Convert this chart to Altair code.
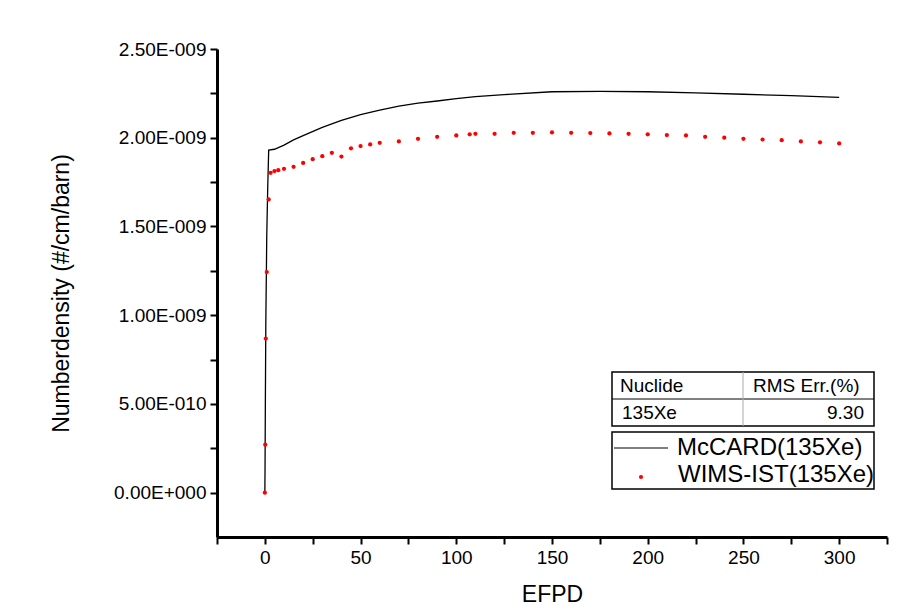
import altair as alt
import pandas as pd

# ---- data (number density in units of 1e-9 #/cm/barn) ----
mccard_efpd = [0, 0.1, 0.25, 0.5, 1, 1.5, 2, 5, 10, 15, 20, 30, 40, 50, 60, 70, 80, 90,
               100, 110, 125, 150, 175, 200, 225, 250, 275, 300]
mccard_nd = [0.0, 0.14, 0.48, 0.95, 1.45, 1.72, 1.93, 1.935, 1.958, 1.988, 2.012, 2.058,
             2.098, 2.130, 2.156, 2.178, 2.195, 2.207, 2.220, 2.232, 2.243, 2.259, 2.261,
             2.259, 2.253, 2.245, 2.237, 2.227]

wims_efpd = [0, 0.2, 0.5, 1, 2, 3, 5, 7, 10, 15, 20, 25, 30, 35, 40, 45, 50, 55, 60, 70,
             80, 90, 100, 107, 110, 120, 130, 140, 150, 160, 170, 180, 190, 200, 210, 220,
             230, 240, 250, 260, 270, 280, 290, 300]
wims_nd = [0.0, 0.27, 0.868, 1.243, 1.652, 1.802, 1.812, 1.817, 1.825, 1.836, 1.858, 1.879,
           1.896, 1.915, 1.894, 1.940, 1.953, 1.962, 1.971, 1.979, 1.994, 2.005, 2.013,
           2.019, 2.022, 2.022, 2.028, 2.028, 2.030, 2.028, 2.026, 2.024, 2.022, 2.019,
           2.015, 2.013, 2.005, 2.000, 1.994, 1.990, 1.986, 1.979, 1.974, 1.968]

y_tick_values = [0, 0.25, 0.5, 0.75, 1.0, 1.25, 1.5, 1.75, 2.0, 2.25, 2.5]
y_label_values = [0, 0.5, 1.0, 1.5, 2.0, 2.5]
y_tick_labels = ["0.00E+000", "5.00E-010", "1.00E-009", "1.50E-009", "2.00E-009", "2.50E-009"]

x_tick_values = [-25, 0, 25, 50, 75, 100, 125, 150, 175, 200, 225, 250, 275, 300, 325]
x_label_values = [0, 50, 100, 150, 200, 250, 300]

table_header = ["Nuclide", "RMS Err.(%)"]
table_row = ["135Xe", "9.30"]
series_names = ["McCARD(135Xe)", "WIMS-IST(135Xe)"]

FONT = "Liberation Sans"
W, H = 670, 488

y_expr = " : ".join(
    f"abs(datum.value - {v}) < 1e-6 ? '{lab}'" for v, lab in zip(y_label_values, y_tick_labels)
) + " : ''"
x_expr = " : ".join(
    f"abs(datum.value - {v}) < 1e-6 ? '{v}'" for v in x_label_values
) + " : ''"

df_m = pd.DataFrame({"EFPD": mccard_efpd, "ND": mccard_nd})
df_w = pd.DataFrame({"EFPD": wims_efpd, "ND": wims_nd})

xscale = alt.Scale(domain=[-25, 325], nice=False, zero=False)
yscale = alt.Scale(domain=[-0.25, 2.5], nice=False, zero=False)

xaxis = alt.Axis(values=x_tick_values, labelExpr=x_expr, title="EFPD",
                 labelOverlap=False, labelFlush=False, labelPadding=4, titlePadding=16)
yaxis = alt.Axis(values=y_tick_values, labelExpr=y_expr, title="Numberdensity (#/cm/barn)",
                 labelOverlap=False, labelPadding=4, titlePadding=40)

line = alt.Chart(df_m).mark_line(color="black", strokeWidth=1.3).encode(
    x=alt.X("EFPD:Q", scale=xscale, axis=xaxis),
    y=alt.Y("ND:Q", scale=yscale, axis=yaxis),
)
pts = alt.Chart(df_w).mark_circle(color="#ff0000", size=18, opacity=1).encode(
    x=alt.X("EFPD:Q", scale=xscale),
    y=alt.Y("ND:Q", scale=yscale),
)

one = alt.Data(values=[{"a": 1}])

# table box
tbl_box = alt.Chart(one).mark_rect(fill="white", stroke="black", strokeWidth=1.5).encode(
    x=alt.value(395), x2=alt.value(657), y=alt.value(323), y2=alt.value(377))
tbl_h = alt.Chart(one).mark_rule(color="black", strokeWidth=1).encode(
    x=alt.value(395), x2=alt.value(657), y=alt.value(350))
tbl_v = alt.Chart(one).mark_rule(color="#aaaaaa", strokeWidth=1).encode(
    x=alt.value(526), y=alt.value(323), y2=alt.value(377))

def txt(s, x, y, size, align="left"):
    return alt.Chart(one).mark_text(text=s, font=FONT, fontSize=size, align=align,
                                    baseline="middle", color="black").encode(
        x=alt.value(x), y=alt.value(y))

t1 = txt(table_header[0], 403, 337, 19)
t2 = txt(table_header[1], 536, 337, 19)
t3 = txt(table_row[0], 405, 364, 19)
t4 = txt(table_row[1], 647, 364, 19, align="right")

# legend box
leg_box = alt.Chart(one).mark_rect(fill="white", stroke="black", strokeWidth=1.5).encode(
    x=alt.value(395), x2=alt.value(657), y=alt.value(383), y2=alt.value(440))
leg_line = alt.Chart(one).mark_rule(color="black", strokeWidth=1.2).encode(
    x=alt.value(397), x2=alt.value(451), y=alt.value(399))
leg_dot = alt.Chart(one).mark_circle(color="#ff0000", size=18, opacity=1).encode(
    x=alt.value(424), y=alt.value(428))
l1 = txt(series_names[0], 460, 399, 24)
l2 = txt(series_names[1], 461, 426, 24)

chart = alt.layer(line, pts, tbl_box, tbl_h, tbl_v, t1, t2, t3, t4,
                  leg_box, leg_line, leg_dot, l1, l2).properties(
    width=W, height=H,
    autosize=alt.AutoSizeParams(type="none"),
    padding={"left": 209, "top": 41, "right": 20, "bottom": 70},
    background="white",
).configure_view(stroke=None).configure_axis(
    grid=False, domainColor="black", domainWidth=3, tickColor="black", tickWidth=2,
    tickSize=7, labelFont=FONT, labelFontSize=19, labelColor="black",
    titleFont=FONT, titleFontSize=23, titleFontWeight="normal", titleColor="black",
)

chart.save("out.html", embed_options={"renderer": "svg", "actions": False})
